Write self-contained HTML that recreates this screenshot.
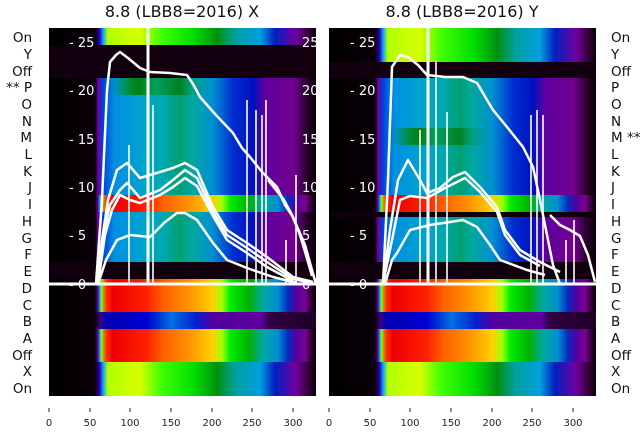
<!DOCTYPE html>
<html><head><meta charset="utf-8"><style>
html,body{margin:0;padding:0;background:#fff;}
svg{display:block;font-family:"DejaVu Sans","Liberation Sans",sans-serif;}
</style></head><body>
<svg width="640" height="440" viewBox="0 0 640 440" xmlns="http://www.w3.org/2000/svg">
<defs>
<linearGradient id="warm" x1="0" x2="1" y1="0" y2="0">
<stop offset="0" stop-color="#000"/><stop offset=".171" stop-color="#0a0008"/><stop offset=".183" stop-color="#6a0090"/><stop offset=".19" stop-color="#00a0ff"/><stop offset=".196" stop-color="#80ff00"/><stop offset=".214" stop-color="#ff3000"/><stop offset=".239" stop-color="#ee0000"/><stop offset=".367" stop-color="#ff2000"/><stop offset=".428" stop-color="#ff6000"/><stop offset=".535" stop-color="#ff9900"/><stop offset=".612" stop-color="#ffd000"/><stop offset=".648" stop-color="#a0ff00"/><stop offset=".679" stop-color="#00ee00"/><stop offset=".749" stop-color="#00b000"/><stop offset=".801" stop-color="#00a8a0"/><stop offset=".856" stop-color="#0090d0"/><stop offset=".893" stop-color="#0030c0"/><stop offset=".924" stop-color="#5000a0"/><stop offset=".96" stop-color="#7a0090"/><stop offset=".988" stop-color="#200020"/><stop offset="1" stop-color="#0a0008"/>
</linearGradient>
<linearGradient id="cool" x1="0" x2="1" y1="0" y2="0">
<stop offset="0" stop-color="#000"/><stop offset=".174" stop-color="#0a0008"/><stop offset=".183" stop-color="#7000a0"/><stop offset=".202" stop-color="#0040e0"/><stop offset=".245" stop-color="#0090e0"/><stop offset=".336" stop-color="#00a0d0"/><stop offset=".428" stop-color="#00a8b0"/><stop offset=".489" stop-color="#00a070"/><stop offset=".535" stop-color="#00a8a0"/><stop offset=".612" stop-color="#0090d0"/><stop offset=".688" stop-color="#0030d0"/><stop offset=".765" stop-color="#0010c0"/><stop offset=".81" stop-color="#6000a0"/><stop offset=".917" stop-color="#700090"/><stop offset=".972" stop-color="#200020"/><stop offset="1" stop-color="#0a0008"/>
</linearGradient>
<linearGradient id="coolg" x1="0" x2="1" y1="0" y2="0">
<stop offset="0" stop-color="#000"/><stop offset=".174" stop-color="#0a0008"/><stop offset=".183" stop-color="#7000a0"/><stop offset=".202" stop-color="#0040e0"/><stop offset=".245" stop-color="#0090d0"/><stop offset=".29" stop-color="#009050"/><stop offset=".336" stop-color="#008010"/><stop offset=".40" stop-color="#00a060"/><stop offset=".489" stop-color="#008020"/><stop offset=".535" stop-color="#00a080"/><stop offset=".612" stop-color="#0090d0"/><stop offset=".688" stop-color="#0030d0"/><stop offset=".765" stop-color="#0010c0"/><stop offset=".81" stop-color="#6000a0"/><stop offset=".917" stop-color="#700090"/><stop offset=".972" stop-color="#200020"/><stop offset="1" stop-color="#0a0008"/>
</linearGradient>
<linearGradient id="green" x1="0" x2="1" y1="0" y2="0">
<stop offset="0" stop-color="#000"/><stop offset=".174" stop-color="#0a0008"/><stop offset=".19" stop-color="#3000c0"/><stop offset=".202" stop-color="#00a0ff"/><stop offset=".22" stop-color="#b0ff00"/><stop offset=".34" stop-color="#d8ff00"/><stop offset=".42" stop-color="#40ff00"/><stop offset=".54" stop-color="#00e000"/><stop offset=".63" stop-color="#009010"/><stop offset=".70" stop-color="#00a0a0"/><stop offset=".79" stop-color="#00a0e0"/><stop offset=".845" stop-color="#0020c0"/><stop offset=".925" stop-color="#7000a0"/><stop offset=".975" stop-color="#300030"/><stop offset="1" stop-color="#0a0008"/>
</linearGradient>
<linearGradient id="blue" x1="0" x2="1" y1="0" y2="0">
<stop offset="0" stop-color="#000"/><stop offset=".174" stop-color="#0a0008"/><stop offset=".19" stop-color="#400080"/><stop offset=".214" stop-color="#0000b0"/><stop offset=".367" stop-color="#0000d0"/><stop offset=".459" stop-color="#0070e0"/><stop offset=".55" stop-color="#0020d0"/><stop offset=".612" stop-color="#5000a0"/><stop offset=".795" stop-color="#6000a0"/><stop offset=".826" stop-color="#300040"/><stop offset="1" stop-color="#200028"/>
</linearGradient>
</defs>

<!-- LEFT PANEL -->
<g transform="translate(49,0)">
<rect x="0" y="28" width="267" height="368" fill="#080006"/>
<rect x="0" y="28" width="267" height="17" fill="url(#green)"/>
<rect x="0" y="45" width="267" height="33" fill="#12000e"/>
<rect x="0" y="78" width="267" height="17" fill="url(#coolg)"/>
<rect x="0" y="95" width="267" height="100" fill="url(#cool)"/>
<rect x="0" y="195" width="267" height="17" fill="url(#warm)"/>
<rect x="0" y="212" width="267" height="50" fill="url(#cool)"/>
<rect x="0" y="262" width="267" height="17" fill="#10000e"/>
<rect x="0" y="279" width="267" height="33" fill="url(#warm)"/>
<rect x="0" y="312" width="267" height="17" fill="url(#blue)"/>
<rect x="0" y="329" width="267" height="33" fill="url(#warm)"/>
<rect x="0" y="362" width="267" height="34" fill="url(#green)"/>
</g>
<!-- RIGHT PANEL -->
<g transform="translate(329,0)">
<rect x="0" y="28" width="267" height="368" fill="#080006"/>
<rect x="0" y="28" width="267" height="34" fill="url(#green)"/>
<rect x="0" y="62" width="267" height="16" fill="#12000e"/>
<rect x="0" y="78" width="267" height="50" fill="url(#cool)"/>
<rect x="0" y="128" width="267" height="17" fill="url(#coolg)"/>
<rect x="0" y="145" width="267" height="50" fill="url(#cool)"/>
<rect x="0" y="195" width="267" height="17" fill="url(#warm)"/>
<rect x="0" y="212" width="267" height="5" fill="#10000e"/>
<rect x="0" y="217" width="267" height="45" fill="url(#cool)"/>
<rect x="0" y="262" width="267" height="17" fill="#10000e"/>
<rect x="0" y="279" width="267" height="33" fill="url(#warm)"/>
<rect x="0" y="312" width="267" height="17" fill="url(#blue)"/>
<rect x="0" y="329" width="267" height="33" fill="url(#warm)"/>
<rect x="0" y="362" width="267" height="34" fill="url(#green)"/>
</g>

<!-- LEFT CURVES -->
<g fill="none" stroke="#fff" stroke-width="2.5" stroke-linejoin="round">
<polyline points="20,284 96,284 102,200 107,90 110,62 116,55 120,52 128,58 140,68 150,72 170,73 187,75 193,84 200,97 215,114 233,133 242,148 250,157 262,172 277,187 285,205 293,217 305,245 310,263 316,284"/>
<polyline points="20,284 316,284" stroke-width="3"/>
<polyline points="96,284 102,240 108,200 117,170 127,163 140,178 160,172 173,168 185,163 197,170 213,207 227,230 247,243 267,257 293,277 313,282"/>
<polyline points="96,284 103,235 110,205 120,190 127,183 140,198 160,190 173,180 185,170 197,178 213,212 227,235 247,248 267,262 293,279 313,283"/>
<polyline points="98,284 105,235 112,210 120,195 130,200 140,203 160,195 173,187 185,178 197,186 213,216 227,240 247,253 267,267 293,281"/>
<polyline points="98,284 106,260 117,240 130,235 150,237 165,222 177,213 185,213 197,220 213,243 227,260 247,268 273,277 297,283"/>
<polyline points="268,180 276,190 284,200 292,215 300,235 306,255 312,276"/>
</g>
<g stroke="#fff" stroke-width="1.6">
<line x1="148" y1="28" x2="148" y2="284" stroke-width="3"/>
<line x1="129" y1="145" x2="129" y2="284"/>
<line x1="153" y1="105" x2="153" y2="284"/>
<line x1="247" y1="100" x2="247" y2="284"/>
<line x1="256" y1="110" x2="256" y2="284"/>
<line x1="262" y1="115" x2="262" y2="284"/>
<line x1="266" y1="100" x2="266" y2="284"/>
<line x1="286" y1="240" x2="286" y2="284"/>
<line x1="296" y1="175" x2="296" y2="284"/>
</g>

<!-- RIGHT CURVES -->
<g fill="none" stroke="#fff" stroke-width="2.5" stroke-linejoin="round">
<polyline points="329,284 383,284 388,180 392,67 400,55 408,57 418,65 427,75 445,77 463,77 477,83 493,110 507,127 523,147 533,167 540,200 548,240 553,265 560,284"/>
<polyline points="329,284 596,284" stroke-width="3"/>
<polyline points="383,284 390,230 398,180 408,160 420,180 427,193 440,188 453,177 465,172 480,187 497,207 505,230 520,250 540,262 560,272"/>
<polyline points="383,284 392,240 400,200 410,196 427,198 445,188 465,178 480,192 497,212 505,235 520,255 540,266"/>
<polyline points="385,284 392,260 397,253 410,230 430,225 450,222 463,220 477,227 490,245 500,260 527,270 545,275"/>
<polyline points="550,215 560,225 570,230 580,236 588,255 595,282"/>
</g>
<g stroke="#fff" stroke-width="1.6">
<line x1="428" y1="28" x2="428" y2="284" stroke-width="3"/>
<line x1="436" y1="60" x2="436" y2="284"/>
<line x1="447" y1="112" x2="447" y2="284"/>
<line x1="420" y1="130" x2="420" y2="284"/>
<line x1="531" y1="115" x2="531" y2="284"/>
<line x1="537" y1="110" x2="537" y2="284"/>
<line x1="543" y1="115" x2="543" y2="284"/>
<line x1="566" y1="240" x2="566" y2="284"/>
<line x1="574" y1="220" x2="574" y2="284"/>
</g>

<!-- y tick labels inside -->
<g fill="#fff" font-size="13">
<text x="69" y="47">- 25</text><text x="69" y="95">- 20</text><text x="69" y="144">- 15</text><text x="69" y="192">- 10</text><text x="69" y="240">- 5</text><text x="69" y="289">- 0</text>
<text x="350" y="47">- 25</text><text x="350" y="95">- 20</text><text x="350" y="144">- 15</text><text x="350" y="192">- 10</text><text x="350" y="240">- 5</text><text x="350" y="289">- 0</text>
</g>
<svg x="300" y="28" width="16" height="270" overflow="hidden"><g fill="#fff" font-size="13">
<text x="2" y="19">25</text><text x="2" y="67">20</text><text x="2" y="116">15</text><text x="2" y="164">10</text><text x="2" y="212">5</text><text x="2" y="261">0</text></g></svg>

<!-- titles -->
<g fill="#111" font-size="16" text-anchor="middle">
<text x="182" y="17">8.8 (LBB8=2016) X</text>
<text x="462" y="17">8.8 (LBB8=2016) Y</text>
</g>

<!-- row labels -->
<g fill="#111" font-size="13.5" text-anchor="end">
<text x="32" y="42">On</text><text x="32" y="59">Y</text><text x="32" y="76">Off</text><text x="32" y="92">** P</text><text x="32" y="109">O</text><text x="32" y="126">N</text><text x="32" y="142">M</text><text x="32" y="159">L</text><text x="32" y="176">K</text><text x="32" y="192">J</text><text x="32" y="209">I</text><text x="32" y="226">H</text><text x="32" y="243">G</text><text x="32" y="259">F</text><text x="32" y="276">E</text><text x="32" y="293">D</text><text x="32" y="310">C</text><text x="32" y="326">B</text><text x="32" y="343">A</text><text x="32" y="360">Off</text><text x="32" y="376">X</text><text x="32" y="393">On</text>
</g>
<g fill="#111" font-size="13.5">
<text x="611" y="42">On</text><text x="611" y="59">Y</text><text x="611" y="76">Off</text><text x="611" y="92">P</text><text x="611" y="109">O</text><text x="611" y="126">N</text><text x="611" y="142">M **</text><text x="611" y="159">L</text><text x="611" y="176">K</text><text x="611" y="192">J</text><text x="611" y="209">I</text><text x="611" y="226">H</text><text x="611" y="243">G</text><text x="611" y="259">F</text><text x="611" y="276">E</text><text x="611" y="293">D</text><text x="611" y="310">C</text><text x="611" y="326">B</text><text x="611" y="343">A</text><text x="611" y="360">Off</text><text x="611" y="376">X</text><text x="611" y="393">On</text>
</g>

<!-- x ticks -->
<g stroke="#222" stroke-width="1">
<line x1="49" y1="408" x2="49" y2="412"/><line x1="90" y1="408" x2="90" y2="412"/><line x1="130" y1="408" x2="130" y2="412"/><line x1="171" y1="408" x2="171" y2="412"/><line x1="212" y1="408" x2="212" y2="412"/><line x1="252" y1="408" x2="252" y2="412"/><line x1="293" y1="408" x2="293" y2="412"/>
<line x1="329" y1="408" x2="329" y2="412"/><line x1="370" y1="408" x2="370" y2="412"/><line x1="410" y1="408" x2="410" y2="412"/><line x1="451" y1="408" x2="451" y2="412"/><line x1="492" y1="408" x2="492" y2="412"/><line x1="532" y1="408" x2="532" y2="412"/><line x1="573" y1="408" x2="573" y2="412"/>
</g>
<g fill="#222" font-size="10" text-anchor="middle">
<text x="49" y="426">0</text><text x="90" y="426">50</text><text x="130" y="426">100</text><text x="171" y="426">150</text><text x="212" y="426">200</text><text x="252" y="426">250</text><text x="293" y="426">300</text>
<text x="329" y="426">0</text><text x="370" y="426">50</text><text x="410" y="426">100</text><text x="451" y="426">150</text><text x="492" y="426">200</text><text x="532" y="426">250</text><text x="573" y="426">300</text>
</g>
</svg>
</body></html>
